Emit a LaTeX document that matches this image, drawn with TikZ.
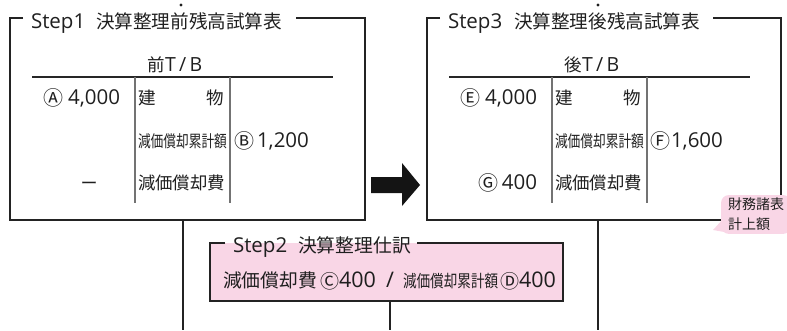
\documentclass[tikz,border=0pt]{standalone}
\usepackage{fontspec}
\usepackage{graphicx}
\setmainfont{Open Sans}
\newfontfamily\jp{Noto Sans CJK JP}
\definecolor{lpink}{RGB}{249,214,230}
\definecolor{bdr}{RGB}{35,35,35}
\newcommand{\fsz}[1]{\fontsize{#1}{#1}\selectfont}
\newcommand{\cj}[2]{{\jp\fsz{#1}#2}}
\newcommand{\narrowcj}[3]{\scalebox{#1}[1]{\jp\fsz{#2}#3}}
\begin{document}
\begin{tikzpicture}[x=1pt,y=-1pt,
  every node/.style={inner sep=0pt,outer sep=0pt,text=black!88},
  frame/.style={line width=1.6pt,draw=bdr},
  conn/.style={line width=1.6pt,draw=bdr},
  tline/.style={line width=1.1pt,draw=black!85},
  vline/.style={line width=1.3pt,draw=black!55},
  lat/.style={font=\fsz{20.5}},
  latbig/.style={font=\fsz{21.5}},
  ttl/.style={font=\fsz{20.5}},
  circ/.style={font=\jp\fsz{20}},
  circs/.style={font=\jp\fsz{19}},
  emdot/.style={fill=black!88}]
\useasboundingbox (0,0) rectangle (787,330);

% ---------- Step1 box ----------
\node[minimum width=355pt,minimum height=202pt,anchor=north west] (box1) at (10,18) {};
\draw[frame] ([xshift=13pt]box1.north west) -- (box1.north west) -- (box1.south west)
  -- (box1.south east) -- (box1.north east) -- ([xshift=-69pt]box1.north east);
\node[ttl,anchor=base west] (t1a) at (31,28) {Step1};
\node[anchor=base west] (t1b) at (96,28) {\cj{18.6}{決算整理前残高試算表}};
\fill[emdot] (181,5) circle (1.6pt);

\node[anchor=base] (h1) at (175,71) {\cj{17.5}{前}{\fsz{19.5}T\,/\,B}};
\draw[tline] (32,77) -- (333,77);
\draw[vline] (135,77) -- (135,203);
\draw[vline] (230,77) -- (230,203);

\node[circ,anchor=base east] (a1c) at (63,105) {Ⓐ};
\node[lat,anchor=base east] (a1v) at (120,104) {4,000};
\node[anchor=base west] (a1k) at (138,104) {\cj{17.5}{建}};
\node[anchor=base east] (a1m) at (224,104) {\cj{17.5}{物}};
\node[anchor=base west] (a2k) at (138,147) {\narrowcj{0.77}{16.5}{減価償却累計額}};
\node[circ,anchor=base west] (a2c) at (234,148) {Ⓑ};
\node[lat,anchor=base west] (a2v) at (257,147) {1,200};
\node[anchor=base] (a3v) at (89,189) {\cj{17}{ー}};
\node[anchor=base west] (a3k) at (138,189) {\cj{17.4}{減価償却費}};

% ---------- arrow ----------
\fill[black!92] (371,177) -- (402,177) -- (402,163) -- (420,185) -- (402,206) -- (402,193) -- (371,193) -- cycle;

% ---------- Step3 box ----------
\node[minimum width=354pt,minimum height=202pt,anchor=north west] (box3) at (427,18) {};
\draw[frame] ([xshift=13pt]box3.north west) -- (box3.north west) -- (box3.south west)
  -- (box3.south east) -- (box3.north east) -- ([xshift=-68pt]box3.north east);
\node[ttl,anchor=base west] (t3a) at (448,28) {Step3};
\node[anchor=base west] (t3b) at (514,28) {\cj{18.6}{決算整理後残高試算表}};
\fill[emdot] (598,5) circle (1.6pt);

\node[anchor=base] (h3) at (592,71) {\cj{17.5}{後}{\fsz{19.5}T\,/\,B}};
\draw[tline] (449,77) -- (750,77);
\draw[vline] (552,77) -- (552,203);
\draw[vline] (647,77) -- (647,203);

\node[circ,anchor=base east] (b1c) at (480,105) {Ⓔ};
\node[lat,anchor=base east] (b1v) at (537,104) {4,000};
\node[anchor=base west] (b1k) at (555,104) {\cj{17.5}{建}};
\node[anchor=base east] (b1m) at (641,104) {\cj{17.5}{物}};
\node[anchor=base west] (b2k) at (555,147) {\narrowcj{0.77}{16.5}{減価償却累計額}};
\node[circ,anchor=base west] (b2c) at (650.5,148) {Ⓕ};
\node[lat,anchor=base west] (b2v) at (671,147) {1,600};
\node[circ,anchor=base east] (b3c) at (498,190) {Ⓖ};
\node[lat,anchor=base east] (b3v) at (537,189) {400};
\node[anchor=base west] (b3k) at (555,189) {\cj{17.4}{減価償却費}};

% ---------- callout ----------
\fill[lpink] (723,219) -- (713,230) -- (730,233) -- cycle;
\node[fill=lpink,rounded corners=8pt,anchor=north west,align=left,
  inner xsep=7pt,inner ysep=3pt,font=\jp\fontsize{14}{20}\selectfont] (note) at (721,195) {財務諸表\\計上額};

% ---------- Step2 box ----------
\node[fill=lpink,minimum width=353pt,minimum height=58pt,anchor=north west] (box2) at (210,243) {};
\draw[frame] ([xshift=15pt]box2.north west) -- (box2.north west) -- (box2.south west)
  -- (box2.south east) -- (box2.north east) -- ([xshift=-146pt]box2.north east);
\node[ttl,anchor=base west] (t2a) at (233,252) {Step2};
\node[anchor=base west] (t2b) at (298,252) {\cj{18.8}{決算整理仕訳}};

\node[anchor=base west] (s1) at (223,287) {\cj{18.8}{減価償却費}};
\node[circs,anchor=base west] (s2) at (320,288) {Ⓒ};
\node[latbig,anchor=base west] (s3) at (339,287) {400};
\node[latbig,anchor=base west] (s4) at (386,287) {/};
\node[anchor=base west] (s5) at (403,287) {\narrowcj{0.8}{17}{減価償却累計額}};
\node[circs,anchor=base west] (s6) at (500,288) {Ⓓ};
\node[latbig,anchor=base west] (s7) at (519,287) {400};

% ---------- connectors ----------
\coordinate (e1) at (183,330);
\coordinate (e2) at (390,330);
\coordinate (e3) at (598,330);
\draw[conn] (e1 |- box1.south) -- (e1);
\draw[conn] (e2 |- box2.south) -- (e2);
\draw[conn] (e3 |- box3.south) -- (e3);
\end{tikzpicture}
\end{document}
